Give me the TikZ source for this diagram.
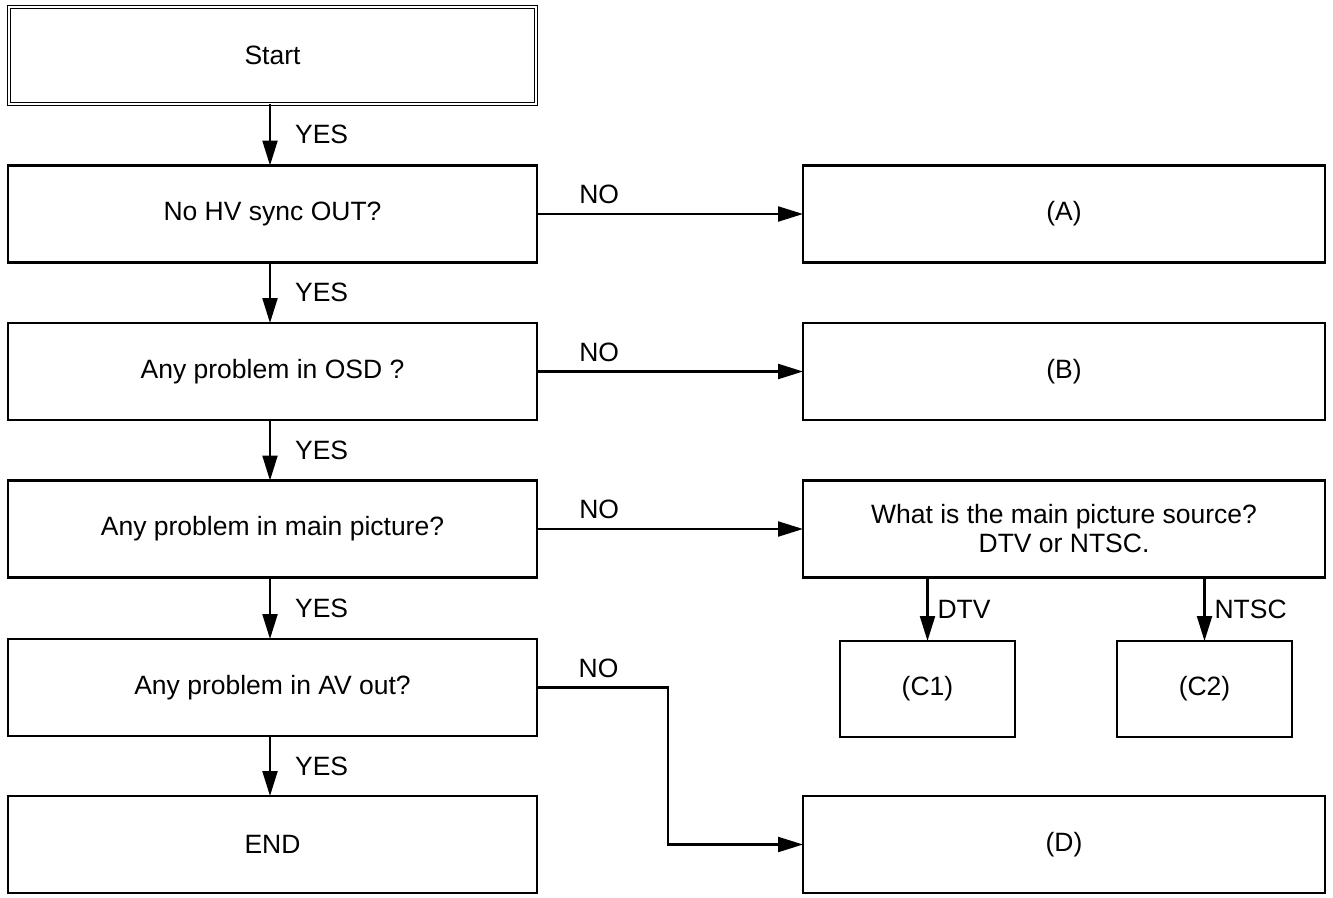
\documentclass[tikz,border=0pt]{standalone}
\usepackage{fontspec}
\setmainfont{Liberation Sans}
\usetikzlibrary{arrows.meta,calc}
\begin{document}
\begin{tikzpicture}[x=1pt,y=-1pt,
  every node/.style={font=\fontsize{26.5}{29}\selectfont},
  box/.style={draw,line width=2.2pt,rectangle,inner sep=0pt,outer sep=0pt,align=center},
  lbox/.style={box,minimum width=529pt,minimum height=97pt},
  rbox/.style={box,minimum width=522pt,minimum height=97pt},
  sbox/.style={box,minimum width=175pt,minimum height=96pt},
  arr/.style={line width=2.2pt,-{Triangle[length=25pt,width=15pt]}},
  lab/.style={inner sep=0pt}
]
\useasboundingbox (0,0) rectangle (1333,897);
\node[box,double,line width=1.3pt,double distance=1.6pt,minimum width=527pt,minimum height=97pt] (start) at (272.5,55.5) {Start};
\node[lbox] (q1) at (272.5,214) {No HV sync OUT?};
\node[lbox] (q2) at (272.5,371.5) {Any problem in OSD ?};
\node[lbox] (q3) at (272.5,529) {Any problem in main picture?};
\node[lbox] (q4) at (272.5,687.5) {Any problem in AV out?};
\node[lbox] (end) at (272.5,844.5) {END};
\node[rbox] (a) at (1064,214) {(A)};
\node[rbox] (b) at (1064,371.5) {(B)};
\node[rbox] (src) at (1064,529) {What is the main picture source?\\DTV or NTSC.};
\node[sbox] (c1) at (927.5,689) {(C1)};
\node[sbox] (c2) at (1204.5,689) {(C2)};
\node[rbox] (d) at (1064,844.5) {(D)};
\coordinate (bend1) at (668,687.5);
\coordinate (bend2) at (668,844.5);
\foreach \u/\v in {start/q1,q1/q2,q2/q3,q3/q4,q4/end}{
  \draw[arr] ($(\u.south)+(-2.5,0)$) -- node[lab,anchor=west,xshift=24pt]{YES} ($(\v.north)+(-2.5,0)$);
}
\foreach \u/\v in {q1/a,q2/b,q3/src}{
  \draw[arr] (\u.east) -- node[lab,pos=0.155,anchor=south west,yshift=9pt]{NO} (\v.west);
}
\draw[arr] (c1.north |- src.south) -- node[lab,anchor=west,xshift=9pt]{DTV} (c1.north);
\draw[arr] (c2.north |- src.south) -- node[lab,anchor=west,xshift=9pt]{NTSC} (c2.north);
\draw[arr] (q4.east) -- node[lab,pos=0.31,anchor=south west,yshift=9pt]{NO} (bend1) -- (bend2) -- (d.west);
\end{tikzpicture}
\end{document}
